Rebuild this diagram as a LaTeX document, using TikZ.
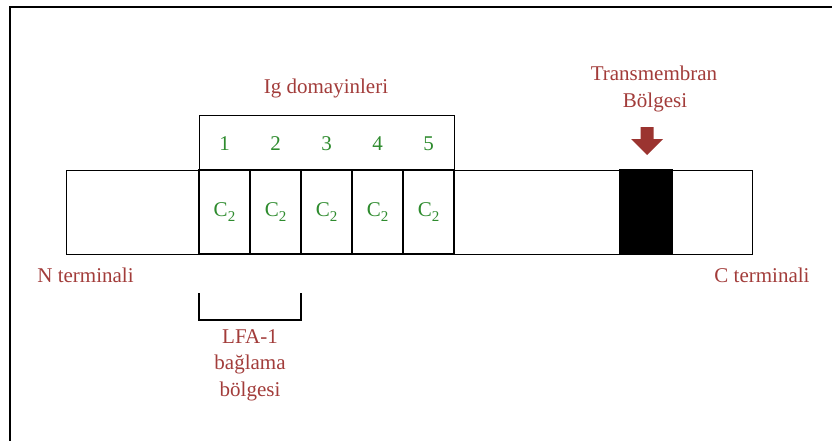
\documentclass[tikz,border=0pt]{standalone}
\usepackage{fontspec}
\setmainfont{Liberation Serif}
\definecolor{labelred}{HTML}{A23C3A}
\definecolor{numgreen}{HTML}{2E8B2E}
\definecolor{arrowred}{HTML}{9B3430}
\begin{document}
\begin{tikzpicture}[x=1pt,y=-1pt,
  txt/.style={font=\fontsize{21}{27}\selectfont, anchor=base, inner sep=0pt},
  redlbl/.style={txt, text=labelred},
  greenlbl/.style={txt, text=numgreen},
  segbox/.style={draw, line width=1.3pt, inner sep=0pt, minimum height=84pt},
  cell/.style={segbox, minimum width=51pt, text=numgreen,
    font=\fontsize{21}{27}\selectfont}]
\useasboundingbox (0,0) rectangle (832,440);

% outer frame (top and left edges)
\draw[line width=2pt] (10,441) -- (10,7) -- (833,7);

% protein chain
\node[segbox, minimum width=686pt, anchor=north west] (chain) at (66,170) {};

% Ig domain bracket box above the chain
\node[draw, line width=1.3pt, inner sep=0pt, minimum width=255pt,
  minimum height=55pt, anchor=north west] (igbox) at (199,115) {};
\node[redlbl] (igtitle) at (326,93) {Ig domayinleri};

% five C2 domains with their numbers
\foreach \i in {1,...,5}{
  \pgfmathsetmacro{\cx}{224.5+(\i-1)*51}
  \node[cell] (c\i) at (\cx,212)
    {C\raisebox{-0.22em}{\fontsize{15}{15}\selectfont 2}};
  \node[greenlbl] (n\i) at (\cx,150) {\i};
}

% transmembrane segment
\node[segbox, fill=black, minimum width=52pt] (tm) at (646,212) {};
\node[redlbl] (tm1) at (654,80) {Transmembran};
\node[redlbl] (tm2) at (655,107) {Bölgesi};
\fill[arrowred] (640.5,127) -- (653.5,127) -- (653.5,139) -- (663,139)
  -- (647,155) -- (631,139) -- (640.5,139) -- cycle;

% terminal labels
\node[redlbl] (nterm) at (85.5,282) {N terminali};
\node[redlbl] (cterm) at (762,282) {C terminali};

% LFA-1 binding region bracket
\draw[line width=1.2pt] (199,293) -- (199,320);
\draw[line width=1.2pt] (301,293) -- (301,320);
\draw[line width=2.6pt] (198.4,320) -- (301.6,320);
\node[redlbl] (lfa1) at (250,343) {LFA-1};
\node[redlbl] (lfa2) at (250,369) {bağlama};
\node[redlbl] (lfa3) at (250,396) {bölgesi};
\end{tikzpicture}
\end{document}
